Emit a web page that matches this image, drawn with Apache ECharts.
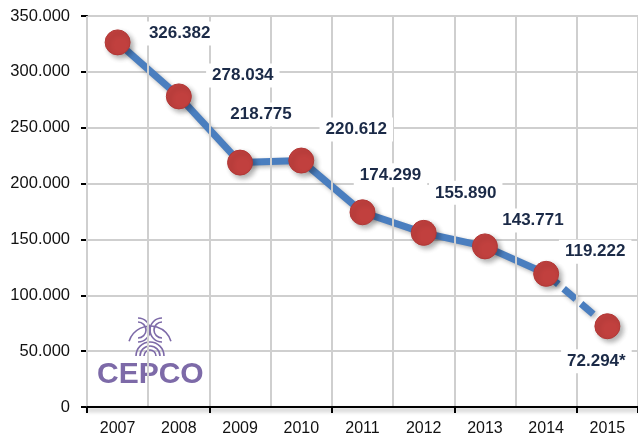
<!DOCTYPE html>
<html>
<head>
<meta charset="utf-8">
<script src="https://cdn.jsdelivr.net/npm/echarts@6/dist/echarts.min.js"></script>
<style>
html,body{margin:0;padding:0;background:#fff;}
#chart{width:638px;height:438px;}
</style>
</head>
<body>
<div id="chart"></div>
<script>
var years = ['2007','2008','2009','2010','2011','2012','2013','2014','2015'];
var values = [326382, 278034, 218775, 220612, 174299, 155890, 143771, 119222, 72294];
var labelTexts = ['326.382','278.034','218.775','220.612','174.299','155.890','143.771','119.222','72.294*'];
var labelOffsets = [[62,-9],[64,-21],[21,-48],[55,-31],[28,-37],[42,-40],[48,-26],[49,-22],[-11,35]];

function fmt(v){
  if (v === 0) return '0';
  var s = String(Math.round(v));
  var out = '';
  while (s.length > 3) { out = '.' + s.slice(-3) + out; s = s.slice(0, -3); }
  return s + out;
}

var solidData = values.map(function(v,i){ return i <= 7 ? v : '-'; });
var dashData = values.map(function(v,i){ return i >= 7 ? v : '-'; });

var lineShadow = { shadowColor:'rgba(0,0,0,0.3)', shadowBlur:4, shadowOffsetX:2, shadowOffsetY:2 };
var purple = '#7d6aa8';

var chart = echarts.init(document.getElementById('chart'), null, {renderer:'canvas'});
chart.setOption({
  animation: false,
  backgroundColor: '#ffffff',
  grid: { left: 87, top: 16, right: -2.5, bottom: 31, containLabel: false },
  xAxis: {
    type: 'category',
    data: years,
    boundaryGap: true,
    axisLine: { lineStyle: { color:'#000', width:2, shadowColor:'rgba(0,0,0,0.35)', shadowBlur:4, shadowOffsetY:3 } },
    axisTick: { show:true, interval:1, length:6, lineStyle:{ color:'#000', width:2 } },
    axisLabel: { interval:0, margin:14, fontFamily:'Liberation Sans', fontSize:16, color:'#111' },
    splitLine: { show:true, interval:0, lineStyle:{ color:'#cfcfcf', width:2 } },
    z: 3
  },
  yAxis: {
    type: 'value',
    min: 0, max: 350000, interval: 50000,
    axisLine: { show:true, lineStyle:{ color:'#000', width:2 } },
    axisTick: { show:true, length:6, lineStyle:{ color:'#000', width:2 } },
    axisLabel: { margin:17, fontFamily:'Liberation Sans', fontSize:16.5, color:'#111', formatter: fmt },
    splitLine: { show:true, lineStyle:{ color:'#cfcfcf', width:2 } }
  },
  graphic: [
    { type:'arc', shape:{ cx:150, cy:356, r:14, startAngle:Math.PI, endAngle:2*Math.PI }, style:{ stroke:purple, lineWidth:1.6, fill:null }, z:1 },
    { type:'arc', shape:{ cx:150, cy:356, r:10, startAngle:Math.PI, endAngle:2*Math.PI }, style:{ stroke:purple, lineWidth:1.6, fill:null }, z:1 },
    { type:'arc', shape:{ cx:150, cy:356, r:6, startAngle:Math.PI, endAngle:2*Math.PI }, style:{ stroke:purple, lineWidth:1.6, fill:null }, z:1 },
    { type:'arc', shape:{ cx:138, cy:330, r:12, startAngle:-Math.PI/2, endAngle:Math.PI/2 }, style:{ stroke:purple, lineWidth:1.6, fill:null }, z:1 },
    { type:'arc', shape:{ cx:138, cy:330, r:8, startAngle:-Math.PI/2, endAngle:Math.PI/2 }, style:{ stroke:purple, lineWidth:1.6, fill:null }, z:1 },
    { type:'arc', shape:{ cx:162, cy:330, r:12, startAngle:Math.PI/2, endAngle:3*Math.PI/2 }, style:{ stroke:purple, lineWidth:1.6, fill:null }, z:1 },
    { type:'arc', shape:{ cx:162, cy:330, r:8, startAngle:Math.PI/2, endAngle:3*Math.PI/2 }, style:{ stroke:purple, lineWidth:1.6, fill:null }, z:1 },
    { type:'arc', shape:{ cx:150, cy:348, r:22, startAngle:Math.PI*1.1, endAngle:Math.PI*1.9 }, style:{ stroke:purple, lineWidth:1.6, fill:null }, z:1 },
    { type:'text', left:97, top:360, z:1, style:{ text:'CEPCO', fill:purple, font:'bold 30px "Liberation Sans"' } }
  ],
  series: [
    {
      type:'line', data: solidData, symbol:'none', z:2, silent:true,
      lineStyle:Object.assign({ color:'#4a7ebf', width:7 }, lineShadow)
    },
    {
      type:'line', data: dashData, symbol:'none', z:2, silent:true,
      lineStyle:Object.assign({ color:'#4a7ebf', width:7, type:[16,7] }, lineShadow)
    },
    {
      type:'scatter', data: values, symbol:'circle', symbolSize:25, z:4,
      itemStyle:{ color:'#c1403e', opacity:1, borderColor:'#b23836', borderWidth:1, shadowColor:'rgba(0,0,0,0.3)', shadowBlur:5, shadowOffsetX:3, shadowOffsetY:3 },
      label:{
        show:true, position:'inside',
        formatter: function(p){ return labelTexts[p.dataIndex]; },
        fontFamily:'Liberation Sans', fontWeight:'bold', fontSize:17, color:'#1b2a47',
        backgroundColor:'#ffffff', padding:[4,6,3,6]
      },
      labelLayout: function(p){
        var o = labelOffsets[p.dataIndex];
        return { dx:o[0], dy:o[1], hideOverlap:false };
      },
      emphasis:{ disabled:true }
    }
  ]
});
</script>
</body>
</html>
